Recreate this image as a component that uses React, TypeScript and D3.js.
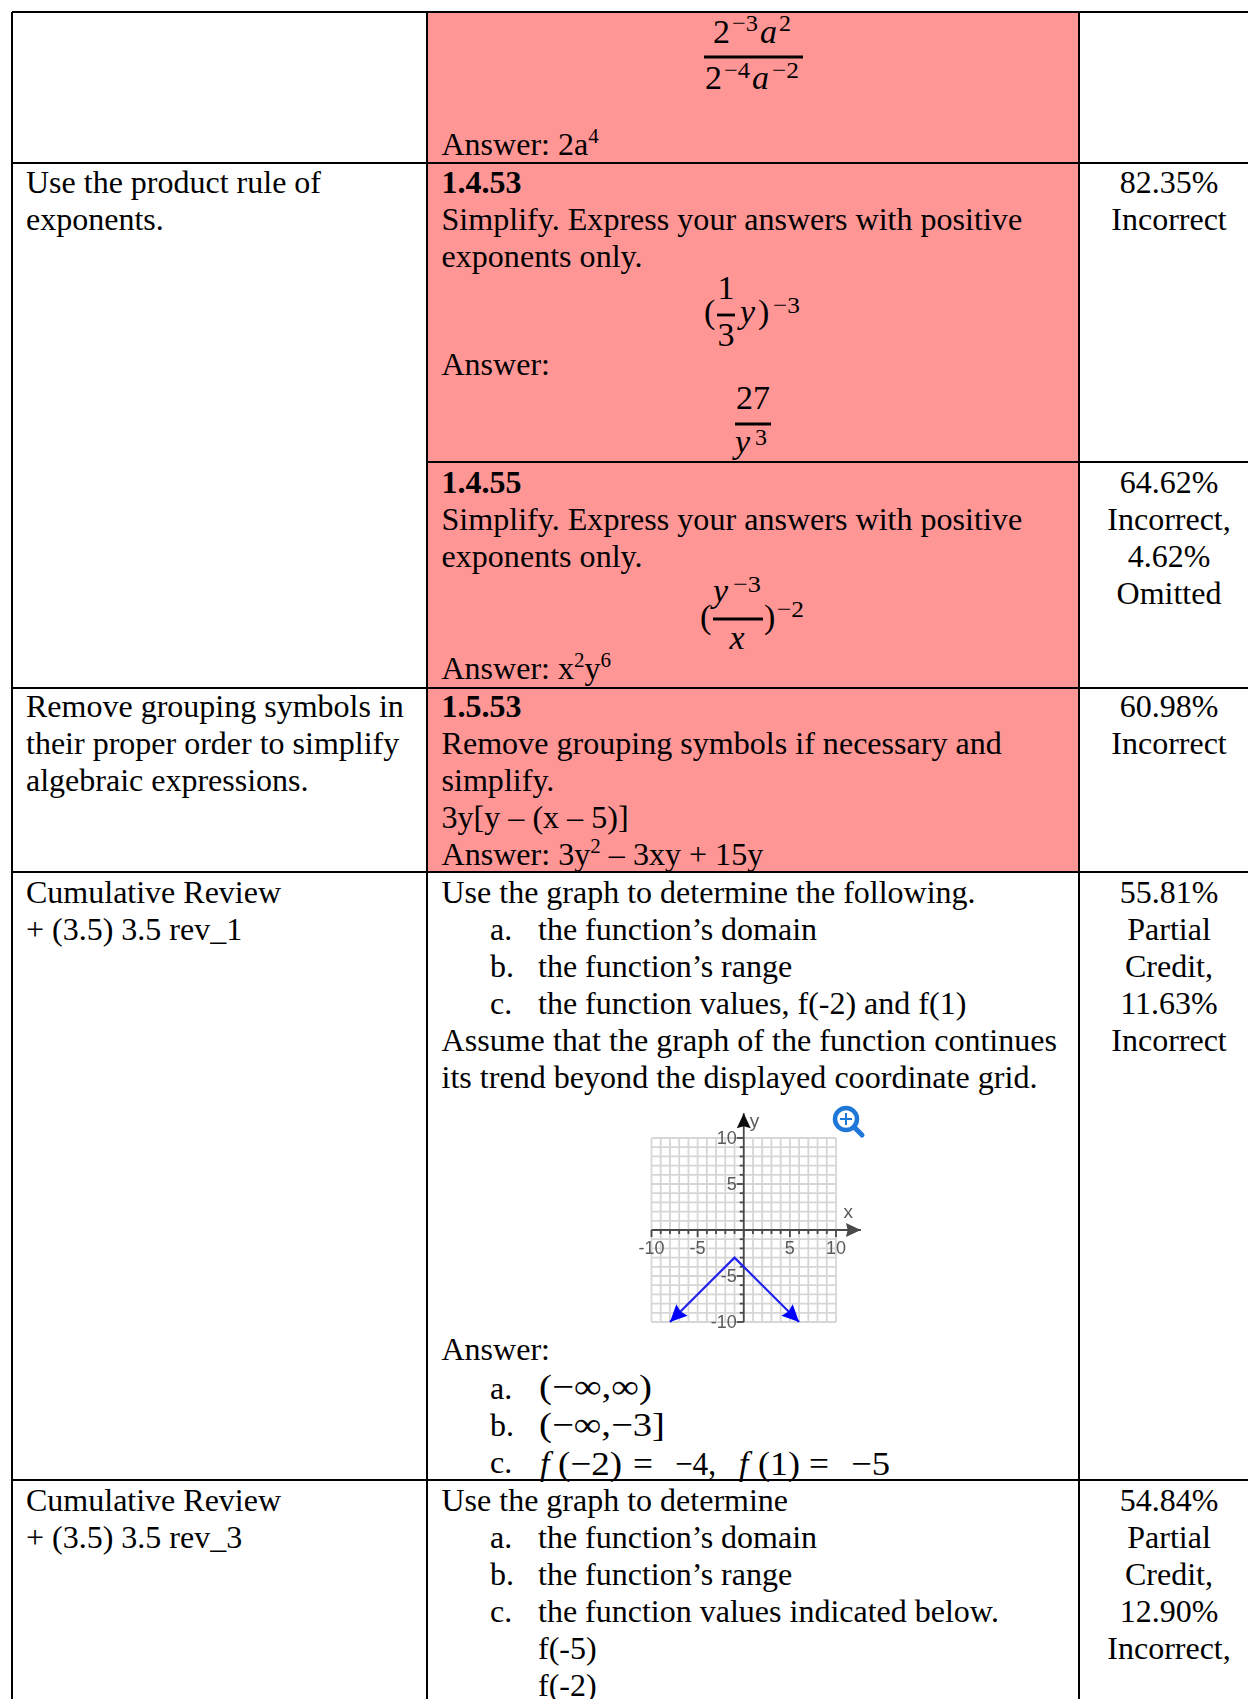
import React from 'react';
import * as d3 from 'd3';

// table text, one small list per cell
const objective2 = ['Use the product rule of', 'exponents.'];
const objective3 = ['Remove grouping symbols in', 'their proper order to simplify', 'algebraic expressions.'];
const objective4 = ['Cumulative Review', '+ (3.5) 3.5 rev_1'];
const objective5 = ['Cumulative Review', '+ (3.5) 3.5 rev_3'];

const question1453 = ['Simplify. Express your answers with positive', 'exponents only.'];
const question1455 = ['Simplify. Express your answers with positive', 'exponents only.'];
const question1553 = ['Remove grouping symbols if necessary and', 'simplify.', '3y[y – (x – 5)]', 'Answer: 3y^2 – 3xy + 15y'];
const graphQuestionA = ['Assume that the graph of the function continues', 'its trend beyond the displayed coordinate grid.'];
const listA = ['the function’s domain', 'the function’s range', 'the function values, f(-2) and f(1)'];
const listB = ['the function’s domain', 'the function’s range', 'the function values indicated below.', 'f(-5)', 'f(-2)'];
const bulletsA = ['a.', 'b.', 'c.'];

const missed1 = ['82.35%', 'Incorrect'];
const missed2 = ['64.62%', 'Incorrect,', '4.62%', 'Omitted'];
const missed3 = ['60.98%', 'Incorrect'];
const missed4 = ['55.81%', 'Partial', 'Credit,', '11.63%', 'Incorrect'];
const missed5 = ['54.84%', 'Partial', 'Credit,', '12.90%', 'Incorrect,'];

// graph values
const lineX = [-8, -1, 6];
const lineY = [-10, -3, -10];
const xLabels = [-10, -5, 5, 10];
const yLabels = [10, 5, -5, -10];

const WIDTH = 1248;
const HEIGHT = 1699;
const rowLines = [12, 163, 462, 688, 872, 1480];
const colLines = [12, 427, 1079];
const LINE = 37;
const serif = '"Liberation Serif", "Times New Roman", serif';
const SIZE = 32;
const PINK = '#ff9696';
const MATH = 34;
const SUP = 24;

// "a^4" turns into a raised tspan
function Rich({ text }: { text: string }) {
    const parts = text.split(/\^(\d)/);
    return (
        <>
            {parts.map((p, i) =>
                i % 2 === 1 ? (
                    <tspan key={i} fontSize={21} dy={-12}>{p}</tspan>
                ) : (
                    <tspan key={i} dy={i > 0 ? 12 : 0}>{p}</tspan>
                )
            )}
        </>
    );
}

function Lines({ x, y, lines, anchor = 'start', size }: { x: number; y: number; lines: string[]; anchor?: string; size?: number }) {
    return (
        <g textAnchor={anchor} fontSize={size}>
            {lines.map((line, i) => (
                <text key={i} x={x} y={y + i * LINE}>
                    <Rich text={line} />
                </text>
            ))}
        </g>
    );
}

function Fraction({ x1, x2, y }: { x1: number; x2: number; y: number }) {
    return <line x1={x1} x2={x2} y1={y} y2={y} stroke="#000" strokeWidth={2.8} />;
}

function MathText({ x, y, size = MATH, italic = false, anchor = 'start', len, children }: any) {
    return (
        <text x={x} y={y} fontSize={size} fontStyle={italic ? 'italic' : 'normal'} textAnchor={anchor}
            textLength={len} lengthAdjust={len ? 'spacingAndGlyphs' : undefined}>
            {children}
        </text>
    );
}

function Graph() {
    const xScale = d3.scaleLinear().domain([-10, 10]).range([651.5, 836]);
    const yScale = d3.scaleLinear().domain([-10, 10]).range([1322, 1138]);
    const units = d3.range(-10, 11);
    const axisEnd = 12.7;
    const gray = '#4a4a4a';

    const path = d3.line<number>().x(d => xScale(lineX[d])).y(d => yScale(lineY[d]))(d3.range(lineX.length)) as string;

    // arrow head drawn in pixels, pointing from -> to
    const head = (x0: number, y0: number, x1: number, y1: number, len: number, half: number) => {
        const a = Math.atan2(y1 - y0, x1 - x0);
        const bx = x1 - Math.cos(a) * len;
        const by = y1 - Math.sin(a) * len;
        const nx = -Math.sin(a) * half;
        const ny = Math.cos(a) * half;
        return `${x1},${y1} ${bx + nx},${by + ny} ${bx + Math.cos(a) * len * 0.12},${by + Math.sin(a) * len * 0.12} ${bx - nx},${by - ny}`;
    };

    return (
        <g filter="url(#soft)">
            {units.map(u => (
                <g key={u} stroke="#d6d6d6" strokeWidth={1.8}>
                    <line x1={xScale(u)} x2={xScale(u)} y1={yScale(-10)} y2={yScale(10)} />
                    <line y1={yScale(u)} y2={yScale(u)} x1={xScale(-10)} x2={xScale(10)} />
                </g>
            ))}

            {/* axes */}
            <g stroke={gray} strokeWidth={1.8}>
                <line x1={xScale(-10)} x2={xScale(axisEnd)} y1={yScale(0)} y2={yScale(0)} />
                <line x1={xScale(0)} x2={xScale(0)} y1={yScale(-10)} y2={yScale(axisEnd)} />
                {units.map(u => (
                    <g key={u}>
                        <line x1={xScale(u)} x2={xScale(u)} y1={yScale(0)} y2={yScale(0) + (u % 5 === 0 ? 7 : 4)} />
                        <line x1={xScale(0) - (u % 5 === 0 ? 7 : 4)} x2={xScale(0)} y1={yScale(u)} y2={yScale(u)} />
                    </g>
                ))}
            </g>
            <polygon points={head(xScale(0), yScale(0), xScale(axisEnd), yScale(0), 15, 7)} fill={gray} />
            <polygon points={head(xScale(0), yScale(0), xScale(0), yScale(axisEnd), 15, 7)} fill="#111" />

            <g fontFamily='"Liberation Sans", Arial, sans-serif' fontSize={18} fill="#5a5a5a">
                {xLabels.map(v => (
                    <text key={v} x={xScale(v)} y={yScale(0) + 23.5} textAnchor="middle">{v}</text>
                ))}
                {yLabels.map(v => (
                    <text key={v} x={xScale(0) - 7} y={yScale(v) + 6} textAnchor="end">{v}</text>
                ))}
                <text x={xScale(10.8)} y={yScale(1.35)} fontSize={19}>x</text>
                <text x={xScale(0.65)} y={yScale(11.2)} fontSize={19}>y</text>
            </g>

            {/* function */}
            <path d={path} fill="none" stroke="#2222f0" strokeWidth={2.2} />
            <polygon points={head(xScale(lineX[1]), yScale(lineY[1]), xScale(lineX[0]), yScale(lineY[0]), 17, 8)} fill="#0000ff" />
            <polygon points={head(xScale(lineX[1]), yScale(lineY[1]), xScale(lineX[2]), yScale(lineY[2]), 17, 8)} fill="#0000ff" />
        </g>
    );
}

export default function App() {
    const midX = 441.5;
    const bulletX = 490;
    const itemX = 538;
    const leftX = 26;
    const pctX = 1169;

    return (
        <svg width={WIDTH} height={HEIGHT} style={{ position: 'absolute', left: 0, top: 0, display: 'block' }}
            fontFamily={serif} fontSize={SIZE} fill="#000">
            <defs>
                <filter id="soft" x="-10%" y="-10%" width="120%" height="120%">
                    <feGaussianBlur stdDeviation="0.4" />
                </filter>
            </defs>
            <rect width={WIDTH} height={HEIGHT} fill="#fff" />
            <rect x={colLines[1]} y={rowLines[0]} width={colLines[2] - colLines[1]} height={rowLines[4] - rowLines[0]} fill={PINK} />

            {/* rules */}
            <g stroke="#000" strokeWidth={2}>
                {rowLines.map((y, i) => (
                    <line key={y} x1={i === 2 ? colLines[1] : colLines[0]} x2={WIDTH} y1={y} y2={y} />
                ))}
                {colLines.map(x => (
                    <line key={x} x1={x} x2={x} y1={rowLines[0]} y2={HEIGHT} />
                ))}
            </g>

            {/* objectives */}
            <Lines x={leftX} y={193} lines={objective2} />
            <Lines x={leftX} y={717} lines={objective3} />
            <Lines x={leftX} y={903} lines={objective4} />
            <Lines x={leftX} y={1511} lines={objective5} />

            {/* row 1 */}
            <MathText x={713} y={43}>2</MathText>
            <MathText x={732} y={31} size={SUP} len={26}>−3</MathText>
            <MathText x={760} y={43} italic>a</MathText>
            <MathText x={779} y={31} size={SUP}>2</MathText>
            <Fraction x1={704} x2={803} y={57} />
            <MathText x={705} y={89}>2</MathText>
            <MathText x={724} y={78} size={SUP} len={26}>−4</MathText>
            <MathText x={752} y={89} italic>a</MathText>
            <MathText x={772} y={78} size={SUP} len={27}>−2</MathText>
            <Lines x={midX} y={155} lines={['Answer: 2a^4']} />

            {/* 1.4.53 */}
            <text x={midX} y={193} fontWeight="bold">1.4.53</text>
            <Lines x={midX} y={230} lines={question1453} size={32.1} />
            <MathText x={704} y={323}>(</MathText>
            <MathText x={726} y={299} anchor="middle">1</MathText>
            <Fraction x1={717} x2={735} y={315} />
            <MathText x={726} y={346} anchor="middle">3</MathText>
            <MathText x={740} y={323} italic>y</MathText>
            <MathText x={758} y={323}>)</MathText>
            <MathText x={773} y={313} size={SUP} len={27}>−3</MathText>
            <Lines x={midX} y={375} lines={['Answer:']} />
            <MathText x={753} y={409} anchor="middle">27</MathText>
            <Fraction x1={735} x2={771} y={424} />
            <MathText x={735} y={453} italic>y</MathText>
            <MathText x={755} y={445} size={SUP}>3</MathText>

            {/* 1.4.55 */}
            <text x={midX} y={493} fontWeight="bold">1.4.55</text>
            <Lines x={midX} y={530} lines={question1455} size={32.1} />
            <MathText x={700} y={628}>(</MathText>
            <MathText x={713} y={602} italic>y</MathText>
            <MathText x={733} y={592} size={SUP} len={28}>−3</MathText>
            <Fraction x1={713} x2={763} y={619} />
            <MathText x={737} y={649} italic anchor="middle">x</MathText>
            <MathText x={764} y={628}>)</MathText>
            <MathText x={777} y={617} size={SUP} len={27}>−2</MathText>
            <Lines x={midX} y={679} lines={['Answer: x^2y^6']} />

            {/* 1.5.53 */}
            <text x={midX} y={717} fontWeight="bold">1.5.53</text>
            <Lines x={midX} y={754} lines={question1553} size={32.1} />

            {/* graph question */}
            <Lines x={midX} y={903} lines={['Use the graph to determine the following.']} />
            <Lines x={bulletX} y={940} lines={bulletsA} />
            <Lines x={itemX} y={940} lines={listA} />
            <Lines x={midX} y={1051} lines={graphQuestionA} size={32.1} />

            <Graph />

            {/* zoom icon */}
            <g fill="none" stroke="#1f78d8">
                <circle cx={846} cy={1119} r={11} strokeWidth={4.5} />
                <line x1={854} y1={1127} x2={862} y2={1135} strokeWidth={5} strokeLinecap="round" />
                <line x1={840} x2={852} y1={1119} y2={1119} strokeWidth={2} />
                <line x1={846} x2={846} y1={1113} y2={1125} strokeWidth={2} />
            </g>

            <Lines x={midX} y={1360} lines={['Answer:']} />
            <Lines x={bulletX} y={1399} lines={bulletsA} />
            <MathText x={539} y={1398} len={113}>(−∞,∞)</MathText>
            <MathText x={539} y={1436} len={126}>(−∞,−3]</MathText>
            <MathText x={540} y={1474.5} italic>f</MathText>
            <MathText x={558} y={1474.5} len={64}>(−2)</MathText>
            <MathText x={633} y={1474.5} len={20}>=</MathText>
            <MathText x={675} y={1474.5} len={41}>−4,</MathText>
            <MathText x={739} y={1474.5} italic>f</MathText>
            <MathText x={758} y={1474.5} len={42}>(1)</MathText>
            <MathText x={809} y={1474.5} len={20}>=</MathText>
            <MathText x={851} y={1474.5} len={39}>−5</MathText>

            {/* last row */}
            <Lines x={midX} y={1511} lines={['Use the graph to determine']} />
            <Lines x={bulletX} y={1548} lines={bulletsA} />
            <Lines x={itemX} y={1548} lines={listB} />

            {/* % missed */}
            <Lines x={pctX} y={193} lines={missed1} anchor="middle" />
            <Lines x={pctX} y={493} lines={missed2} anchor="middle" />
            <Lines x={pctX} y={717} lines={missed3} anchor="middle" />
            <Lines x={pctX} y={903} lines={missed4} anchor="middle" />
            <Lines x={pctX} y={1511} lines={missed5} anchor="middle" />
        </svg>
    );
}
